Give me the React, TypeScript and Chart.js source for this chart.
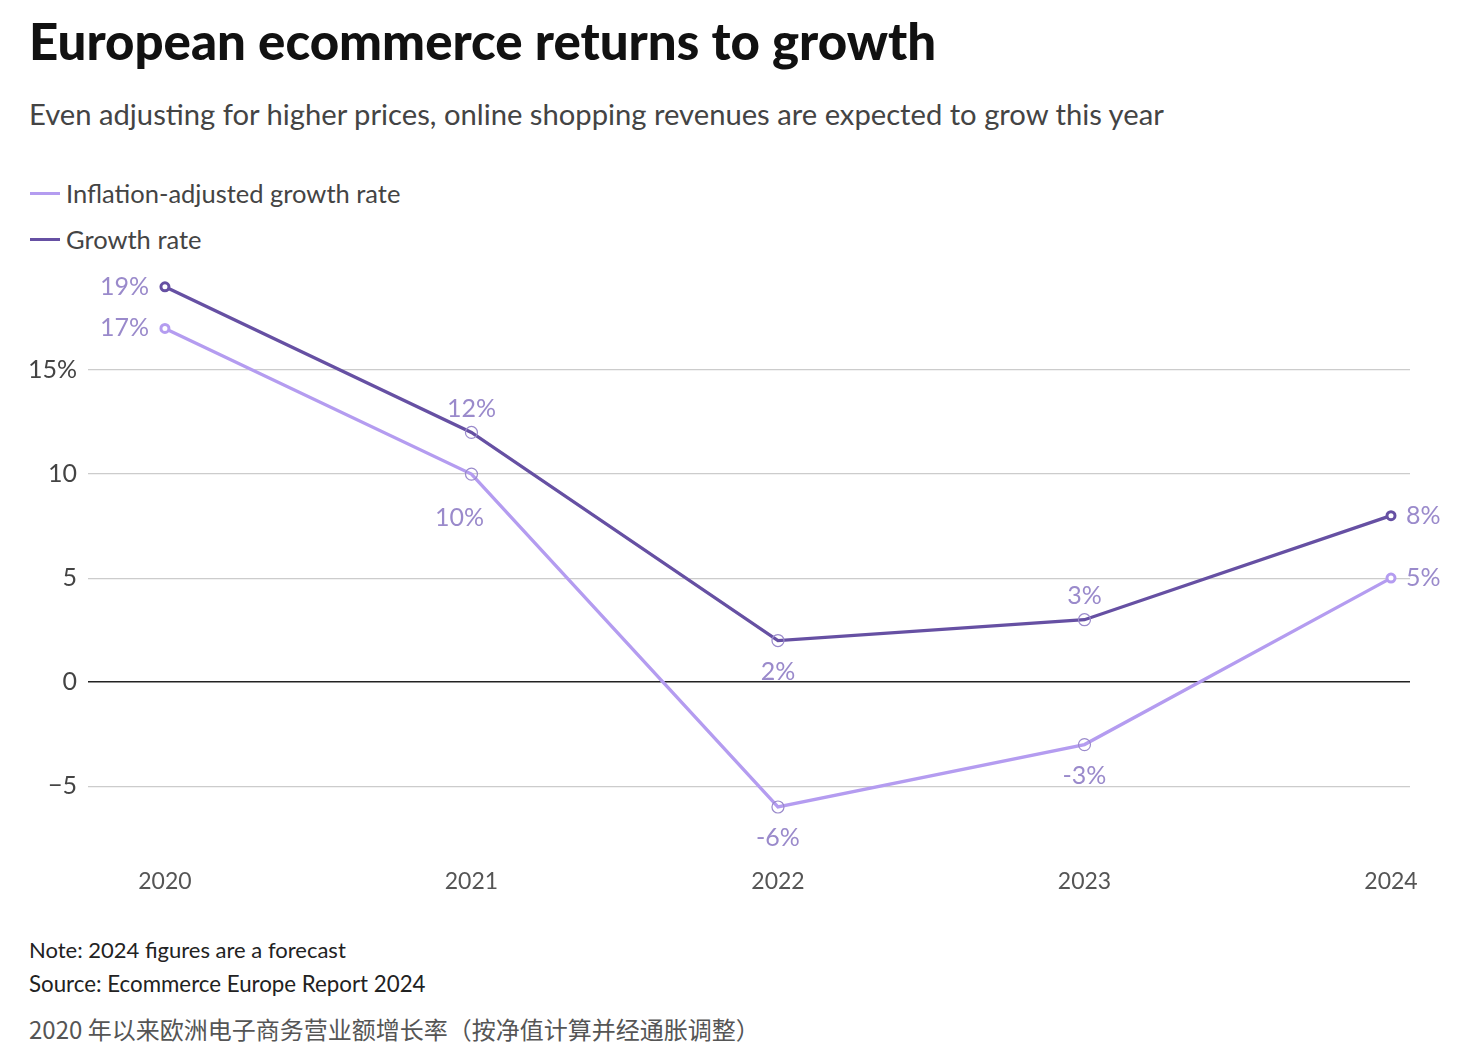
import React, { useEffect, useRef } from "react";
import { Chart, registerables } from "chart.js";

Chart.register(...registerables);

const years = [2020, 2021, 2022, 2023, 2024];
const growthRate = [19, 12, 2, 3, 8];
const inflationAdjusted = [17, 10, -6, -3, 5];
const yTickValues = [-5, 0, 5, 10, 15];
const yTickLabels = ["\u22125", "0", "5", "10", "15%"];

const DARK = "#6650a3";
const LIGHT = "#b49cf0";
const LABEL = "#9a8acb";
const FONT = "Lato, 'Source Sans Pro', sans-serif";

// label placement (style only)
const growthPlace = ["left", "above", "below", "above", "right"];
const inflPlace = ["left", "below", "below", "below", "right"];

const labelPlugin = {
  id: "pointLabels",
  afterDatasetsDraw(chart: any) {
    const ctx = chart.ctx;
    ctx.save();
    ctx.font = `25px ${FONT}`;
    ctx.fillStyle = LABEL;
    ctx.textBaseline = "middle";
    chart.data.datasets.forEach((ds: any, di: number) => {
      const meta = chart.getDatasetMeta(di);
      const places = ds.label === "Growth rate" ? growthPlace : inflPlace;
      meta.data.forEach((pt: any, i: number) => {
        const v = ds.data[i].y;
        const txt = `${v}%`;
        const p = places[i];
        let x = pt.x;
        let y = pt.y;
        if (p === "left") {
          ctx.textAlign = "right";
          x -= 16;
        } else if (p === "right") {
          ctx.textAlign = "left";
          x += 15;
        } else if (p === "above") {
          ctx.textAlign = "center";
          y -= 24;
        } else {
          ctx.textAlign = "center";
          y += 31;
          if (i === 1) {
            y += 13;
            x -= 12;
          }
        }
        ctx.fillText(txt, x, y);
      });
    });
    ctx.restore();
  },
};

function pointStyleArrays(color: string) {
  const n = years.length;
  return {
    pointBorderColor: years.map((_, i) => (i === 0 || i === n - 1 ? color : LABEL)),
    pointBorderWidth: years.map((_, i) => (i === 0 || i === n - 1 ? 3 : 1.2)),
    pointRadius: years.map((_, i) => (i === 0 || i === n - 1 ? 4 : 6)),
    pointBackgroundColor: years.map((_, i) => (i === 0 || i === n - 1 ? "#fff" : "rgba(255,255,255,0)")),
  };
}

function LineChart() {
  const ref = useRef<HTMLCanvasElement | null>(null);
  useEffect(() => {
    if (!ref.current) return;
    const chart = new Chart(ref.current, {
      type: "line",
      data: {
        datasets: [
          {
            label: "Inflation-adjusted growth rate",
            data: years.map((y, i) => ({ x: y, y: inflationAdjusted[i] })),
            borderColor: LIGHT,
            borderWidth: 3.3,
            tension: 0,
            ...pointStyleArrays(LIGHT),
          },
          {
            label: "Growth rate",
            data: years.map((y, i) => ({ x: y, y: growthRate[i] })),
            borderColor: DARK,
            borderWidth: 3.3,
            tension: 0,
            ...pointStyleArrays(DARK),
          },
        ],
      },
      options: {
        animation: false,
        responsive: false,
        maintainAspectRatio: false,
        layout: { padding: { top: 10, right: 60, left: 0, bottom: 0 } },
        plugins: { legend: { display: false }, tooltip: { enabled: false } },
        scales: {
          x: {
            type: "linear",
            min: 2019.749,
            max: 2024.062,
            afterBuildTicks: (s: any) => {
              s.ticks = years.map((v) => ({ value: v }));
            },
            afterFit: (s: any) => {
              s.height = 50;
            },
            grid: { display: false },
            border: { display: false },
            ticks: {
              callback: (v: any) => String(v),
              color: "#555",
              font: { family: FONT, size: 23 },
              padding: 1,
              maxRotation: 0,
              autoSkip: false,
            },
          },
          y: {
            min: -8.5,
            max: 20,
            afterBuildTicks: (s: any) => {
              s.ticks = yTickValues.map((v) => ({ value: v }));
            },
            afterFit: (s: any) => {
              s.width = 88;
            },
            border: { display: false },
            grid: {
              drawTicks: false,
              color: (c: any) => (c.tick && c.tick.value === 0 ? "#222" : "#cccccc"),
              lineWidth: (c: any) => (c.tick && c.tick.value === 0 ? 1.5 : 1.2),
            },
            ticks: {
              callback: (v: any) => {
                const idx = yTickValues.indexOf(Number(v));
                return idx >= 0 ? yTickLabels[idx] : "";
              },
              color: "#444",
              font: { family: FONT, size: 25 },
              padding: 11,
            },
          },
        },
      } as any,
      plugins: [labelPlugin],
    });
    return () => chart.destroy();
  }, []);
  return (
    <canvas
      ref={ref}
      width={1470}
      height={669}
      style={{ position: "absolute", left: 0, top: 240, width: 1470, height: 669 }}
    />
  );
}

export default function App() {
  const legendItem = (color: string, text: string, top: number) => (
    <div style={{ position: "absolute", left: 30, top, display: "flex", alignItems: "center" }}>
      <div style={{ width: 30, height: 3, background: color, marginRight: 6 }} />
      <span style={{ fontFamily: FONT, fontSize: 25.5, color: "#444" }}>{text}</span>
    </div>
  );
  return (
    <div style={{ position: "absolute", left: 0, top: 0, width: 1470, height: 1056, background: "#fff", overflow: "hidden" }}>
      <div style={{ position: "absolute", left: 29, top: 10, fontFamily: FONT, fontWeight: 900, fontSize: 51, color: "#111", whiteSpace: "nowrap" }}>
        European ecommerce returns to growth
      </div>
      <div style={{ position: "absolute", left: 29, top: 96, fontFamily: FONT, fontSize: 29.2, color: "#444", whiteSpace: "nowrap" }}>
        Even adjusting for higher prices, online shopping revenues are expected to grow this year
      </div>
      {legendItem(LIGHT, "Inflation-adjusted growth rate", 178)}
      {legendItem(DARK, "Growth rate", 224)}
      <LineChart />
      <div style={{ position: "absolute", left: 29, top: 936, fontFamily: FONT, fontSize: 22, color: "#222", whiteSpace: "nowrap" }}>
        Note: 2024 figures are a forecast
      </div>
      <div style={{ position: "absolute", left: 29, top: 970, fontFamily: FONT, fontSize: 22.3, color: "#222", whiteSpace: "nowrap" }}>
        Source: Ecommerce Europe Report 2024
      </div>
      <div style={{ position: "absolute", left: 29, top: 1011, fontFamily: "'Noto Sans CJK SC', sans-serif", fontSize: 24, color: "#555", whiteSpace: "nowrap" }}>
        2020 年以来欧洲电子商务营业额增长率（按净值计算并经通胀调整）
      </div>
    </div>
  );
}
